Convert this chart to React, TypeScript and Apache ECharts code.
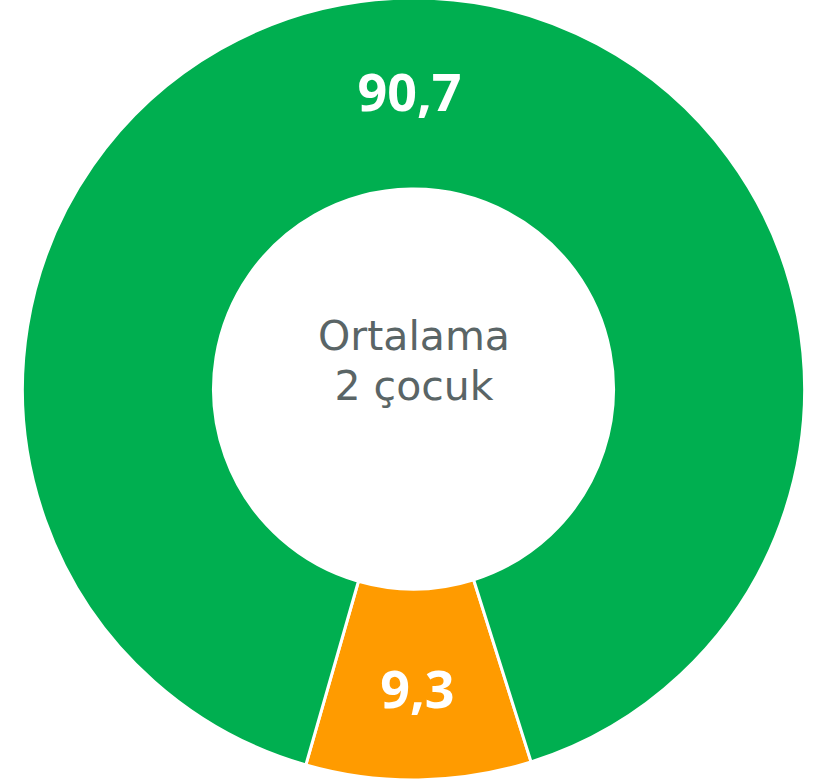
import React, { useEffect, useRef } from "react";
import * as echarts from "echarts";

const categories = ["Orange", "Green"];
const values = [9.3, 90.7];
const colors = ["#FF9B00", "#00AF50"];
const centerText = ["Ortalama", "2 çocuk"];

export default function App() {
  const ref = useRef<HTMLDivElement>(null);
  useEffect(() => {
    if (!ref.current) return;
    const chart = echarts.init(ref.current, undefined, { renderer: "svg" });
    chart.setOption({
      animation: false,
      backgroundColor: "#ffffff",
      graphic: centerText.map((t, i) => ({
        type: "text",
        x: 414,
        y: 336 + i * 50,
        style: {
          text: t,
          textAlign: "center",
          textVerticalAlign: "middle",
          fontFamily: "DejaVu Sans",
          fontSize: 41,
          lineHeight: 46,
          fill: "#5A6566",
        },
      })),
      series: [
        {
          type: "pie",
          center: [413.5, 389],
          radius: [200, 391],
          startAngle: 287.5,
          clockwise: true,
          silent: true,
          itemStyle: { borderColor: "#ffffff", borderWidth: 3 },
          label: {
            show: true,
            position: "inside",
            color: "#ffffff",
            fontFamily: "Noto Sans",
            fontWeight: "bold",
            fontSize: 52,
            formatter: (p: any) => String(p.value).replace(".", ","),
          },
          labelLine: { show: false },
          data: categories.map((c, i) => ({
            name: c,
            value: values[i],
            itemStyle: { color: colors[i] },
          })),
        },
      ],
    });
    return () => chart.dispose();
  }, []);
  return (
    <div
      ref={ref}
      style={{ position: "fixed", left: 0, top: 0, width: 831, height: 782 }}
    />
  );
}
